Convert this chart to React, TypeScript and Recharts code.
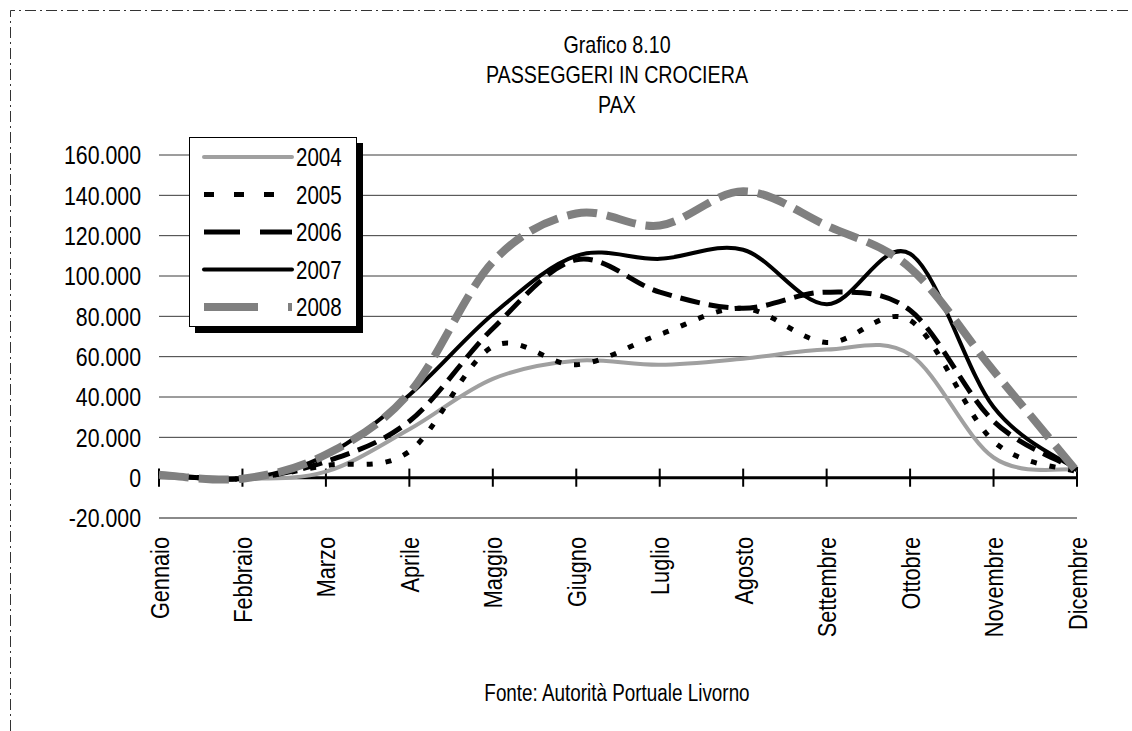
import { LineChart, Line, XAxis, YAxis, CartesianGrid, ReferenceLine } from 'recharts'

const months = [
  'Gennaio', 'Febbraio', 'Marzo', 'Aprile', 'Maggio', 'Giugno',
  'Luglio', 'Agosto', 'Settembre', 'Ottobre', 'Novembre', 'Dicembre',
]

const pax2004 = [1500, -500, 3000, 24000, 49000, 58000, 56000, 59000, 63500, 61000, 10000, 4000]
const pax2005 = [1500, -500, 6000, 13000, 65000, 56000, 71000, 84000, 67000, 78000, 18000, 3000]
const pax2006 = [1500, -500, 8000, 28000, 74000, 108000, 92000, 84000, 92000, 83000, 28000, 4000]
const pax2007 = [1500, -500, 11000, 41000, 81000, 110000, 108500, 113000, 86000, 111000, 35000, 4000]
const pax2008 = [1500, -500, 11500, 42000, 107000, 131000, 125000, 142000, 125000, 104000, 53000, 3000]

const yTicks = [-20000, 0, 20000, 40000, 60000, 80000, 100000, 120000, 140000, 160000]

const series = [
  { key: 'y2004', name: '2004', color: '#a0a0a0', width: 4, dash: undefined, legendDash: undefined },
  { key: 'y2005', name: '2005', color: '#000000', width: 5, dash: '6 13', legendDash: '10 20' },
  { key: 'y2006', name: '2006', color: '#000000', width: 5, dash: '20 9', legendDash: '36 20' },
  { key: 'y2007', name: '2007', color: '#000000', width: 4, dash: undefined, legendDash: undefined },
  { key: 'y2008', name: '2008', color: '#808080', width: 8, dash: '30 10', legendDash: '54 30' },
]

const data = months.map((m, i) => ({
  month: m,
  y2004: pax2004[i],
  y2005: pax2005[i],
  y2006: pax2006[i],
  y2007: pax2007[i],
  y2008: pax2008[i],
}))

// arial narrow is not installed: squeeze liberation sans instead
const FONT = "'Liberation Sans', Arial, sans-serif"
const NARROW = 0.82

// excel-like smoothed line (catmull-rom through the points)
function smoothCurve(context: any) {
  let xs: number[] = []
  let ys: number[] = []
  return {
    areaStart() {},
    areaEnd() {},
    lineStart() {
      xs = []
      ys = []
    },
    point(x: number, y: number) {
      xs.push(+x)
      ys.push(+y)
    },
    lineEnd() {
      const n = xs.length
      if (!n) return
      context.moveTo(xs[0], ys[0])
      for (let i = 0; i < n - 1; i++) {
        const a = Math.max(i - 1, 0)
        const d = Math.min(i + 2, n - 1)
        context.bezierCurveTo(
          xs[i] + (xs[i + 1] - xs[a]) / 6,
          ys[i] + (ys[i + 1] - ys[a]) / 6,
          xs[i + 1] - (xs[d] - xs[i]) / 6,
          ys[i + 1] - (ys[d] - ys[i]) / 6,
          xs[i + 1],
          ys[i + 1],
        )
      }
    },
  }
}

const fmt = (v: number) => v.toLocaleString('de-DE')

function MonthTick({ x, y, payload }: any) {
  return (
    <g transform={`translate(${x},${y}) rotate(-90) scale(${NARROW},1)`}>
      <text x={0} y={0} dy="0.36em" textAnchor="end" fontFamily={FONT} fontSize={26.5} fill="#000">
        {payload.value}
      </text>
    </g>
  )
}

function ValueTick({ x, y, payload }: any) {
  return (
    <g transform={`translate(${x},${y}) scale(${NARROW},1)`}>
      <text x={0} y={0} dy="0.36em" textAnchor="end" fontFamily={FONT} fontSize={26} fill="#000">
        {fmt(payload.value)}
      </text>
    </g>
  )
}

function LegendBox() {
  return (
    <div
      style={{
        position: 'absolute',
        left: 189,
        top: 137,
        width: 166,
        height: 188,
        border: '1px solid #000',
        background: '#fff',
        boxShadow: '6px 6px 0 #000',
      }}
    >
      <svg width={166} height={188} style={{ position: 'absolute', left: 0, top: 0 }}>
        {series.map((s, i) => {
          const cy = 19 + i * 37.5
          return (
            <g key={s.key}>
              <line
                x1={14}
                x2={102}
                y1={cy}
                y2={cy}
                stroke={s.color}
                strokeWidth={s.width}
                strokeDasharray={s.legendDash}
                strokeLinecap={s.legendDash ? 'butt' : 'round'}
              />
              <g transform={`translate(106,${cy}) scale(${NARROW},1)`}>
                <text x={0} y={0} dy="0.36em" fontFamily={FONT} fontSize={25} fill="#000">
                  {s.name}
                </text>
              </g>
            </g>
          )
        })}
      </svg>
    </div>
  )
}

const squeeze = { transform: `scaleX(${NARROW})`, transformOrigin: '617px 0' }

export default function App() {
  const W = 1132
  const H = 731
  return (
    <div style={{ position: 'absolute', left: 0, top: 0, width: W, height: H, background: '#fff', fontFamily: FONT }}>
      <svg width={W} height={H} style={{ position: 'absolute', left: 0, top: 0 }}>
        <path d={`M10.5,${H} L10.5,10.5 L${W},10.5`} fill="none" stroke="#333" strokeWidth={1} strokeDasharray="11 4 2 4" />
      </svg>
      <div style={{ position: 'absolute', left: 0, width: 1234, top: 30, textAlign: 'center', fontSize: 24, lineHeight: '30px', color: '#000', ...squeeze }}>
        <div>Grafico 8.10</div>
        <div>PASSEGGERI IN CROCIERA</div>
        <div>PAX</div>
      </div>
      <div style={{ position: 'absolute', left: 0, width: 1234, top: 678, textAlign: 'center', fontSize: 23, lineHeight: '30px', ...squeeze }}>
        Fonte: Autorità Portuale Livorno
      </div>
      <div style={{ position: 'absolute', left: 0, top: 0 }}>
        <LineChart width={W} height={H} data={data} margin={{ top: 155, right: 55, bottom: 83, left: 59 }}>
          <CartesianGrid vertical={false} stroke="#3a3a3a" strokeWidth={1} />
          <XAxis
            dataKey="month"
            axisLine={false}
            tickLine={false}
            interval={0}
            height={130}
            tick={<MonthTick />}
            tickMargin={13}
          />
          <YAxis
            domain={[-20000, 160000]}
            ticks={yTicks}
            width={100}
            axisLine={false}
            tickLine={false}
            tickMargin={12}
            tick={<ValueTick />}
            interval={0}
          />
          <ReferenceLine y={-20000} stroke="#8a8a8a" strokeWidth={2} />
          <ReferenceLine y={0} stroke="#000" strokeWidth={3} />
          {months.map((m) => (
            <ReferenceLine
              key={m}
              segment={[{ x: m, y: -4500 }, { x: m, y: 4500 }]}
              stroke="#000"
              strokeWidth={2}
            />
          ))}
          {series.map((s) => (
            <Line
              key={s.key}
              dataKey={s.key}
              name={s.name}
              type={smoothCurve as any}
              stroke={s.color}
              strokeWidth={s.width}
              strokeDasharray={s.dash}
              dot={false}
              activeDot={false}
              isAnimationActive={false}
            />
          ))}
        </LineChart>
      </div>
      <LegendBox />
    </div>
  )
}
